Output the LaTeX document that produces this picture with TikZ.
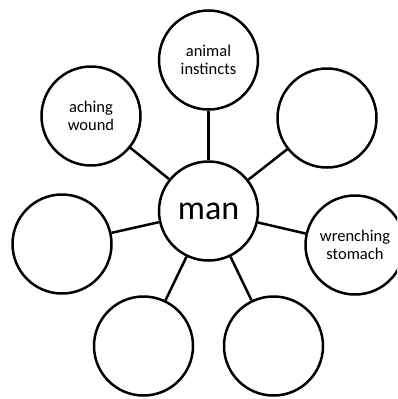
\documentclass[tikz,border=0pt]{standalone}
\usepackage{fontspec}
\setmainfont{Carlito}
\usepackage{tikz}
\usetikzlibrary{positioning}
\tikzset{
  hub/.style={circle, draw=black, fill=white, line width=2.5pt, inner sep=0pt,
              minimum size=99pt, align=center, font=\fontsize{34}{40}\selectfont},
  spoke/.style={circle, draw=black, fill=white, line width=2.5pt, inner sep=0pt,
                minimum size=99pt, align=center, font=\fontsize{16.5}{18.5}\selectfont},
  link/.style={line width=2.5pt, color=black},
}

\begin{document}
\begin{tikzpicture}[x=1pt, y=-1pt]

  \clip (0,0) rectangle (397,399);

  % ── Centre word ──────────────────────────────────────────────────────
  \node[hub] (man) at (208.5,211) {man};

  % ── Surrounding circles ──────────────────────────────────────────────
  \node[spoke] (instincts) at (208.5,60)  {animal\\instincts};
  \node[spoke] (wound)     at (91,116)    {aching\\wound};
  \node[spoke] (upright)   at (327,118)   {};
  \node[spoke] (left)      at (62,244)    {};
  \node[spoke] (stomach)   at (355,245)   {wrenching\\stomach};
  \node[spoke] (lowleft)   at (143.5,346) {};
  \node[spoke] (lowright)  at (273.5,346) {};

  % ── Connectors ───────────────────────────────────────────────────────
  \foreach \n in {instincts, wound, upright, left, stomach, lowleft, lowright}
    \draw[link] (man) -- (\n);

\end{tikzpicture}
\end{document}
